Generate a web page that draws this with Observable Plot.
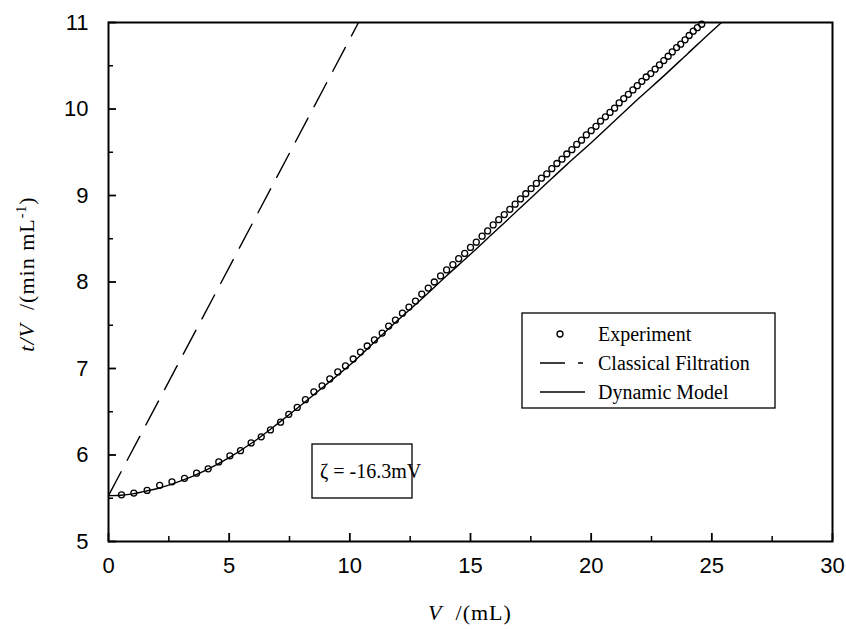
<!DOCTYPE html>
<html><head><meta charset="utf-8">
<script src="https://cdn.jsdelivr.net/npm/d3@7"></script>
<script src="https://cdn.jsdelivr.net/npm/@observablehq/plot@0.6"></script>
<style>body{margin:0;background:#fff}</style>
</head><body><div id="chart"></div>
<script>
// Experiment (filtrate volume V in mL, t/V in min/mL)
const expV = [0.54,1.05,1.60,2.12,2.63,3.15,3.65,4.13,4.57,5.03,5.47,5.91,6.33,6.71,7.13,7.47,7.82,8.16,8.51,8.85,9.17,9.50,9.82,10.14,10.44,10.72,11.02,11.34,11.61,11.89,
  12.18,12.45,12.72,12.98,13.25,13.50,13.76,14.01,14.27,14.51,14.76,15.00,15.24,15.48,15.71,15.94,16.17,16.40,16.63,16.85,17.07,17.29,17.51,17.73,17.94,18.16,18.37,18.58,18.79,18.99,
  19.20,19.40,19.60,19.80,20.00,20.20,20.39,20.59,20.78,20.97,21.16,21.35,21.54,21.73,21.91,22.10,22.28,22.47,22.65,22.83,23.01,23.19,23.36,23.54,23.71,23.89,24.06,24.23,24.40,24.58];
const expTV = [5.54,5.56,5.59,5.65,5.69,5.73,5.79,5.84,5.92,5.99,6.05,6.14,6.21,6.29,6.38,6.47,6.55,6.64,6.73,6.80,6.88,6.96,7.03,7.11,7.19,7.26,7.33,7.41,7.49,7.56,
  7.64,7.71,7.78,7.86,7.93,8.00,8.07,8.14,8.20,8.27,8.33,8.40,8.46,8.53,8.59,8.66,8.72,8.78,8.84,8.90,8.96,9.02,9.08,9.14,9.20,9.25,9.31,9.37,9.42,9.48,
  9.53,9.59,9.64,9.70,9.75,9.80,9.86,9.91,9.96,10.01,10.07,10.12,10.17,10.22,10.27,10.32,10.37,10.41,10.46,10.51,10.56,10.61,10.66,10.71,10.75,10.80,10.85,10.90,10.94,10.98];
// Dynamic model curve
const modelV  = [0,0.5,1,1.5,2,3,4,5,6,7,8,9,10,11,12,13,14,15,16,17,18,19,20,21,22,23,24,25,25.4];
const modelTV = [5.53,5.535,5.55,5.58,5.61,5.70,5.82,5.97,6.15,6.36,6.58,6.81,7.04,7.30,7.56,7.81,8.07,8.32,8.58,8.84,9.10,9.36,9.61,9.87,10.13,10.38,10.64,10.90,11.0];
// Classical filtration line
const classicV  = [0, 10.36];
const classicTV = [5.53, 11.0];

const xTicks = [0,5,10,15,20,25,30];
const xMinor = [2.5,7.5,12.5,17.5,22.5,27.5];
const yTicks = [5,6,7,8,9,10,11];
const yMinor = [5.5,6.5,7.5,8.5,9.5,10.5];
const legendLabels = ["Experiment","Classical Filtration","Dynamic Model"];
const annotationText = "\u03B6 = -16.3mV";

const expData = expV.map((v,i)=>({V:v, tv:expTV[i]}));
const modelData = modelV.map((v,i)=>({V:v, tv:modelTV[i]}));
const classicData = classicV.map((v,i)=>({V:v, tv:classicTV[i]}));

const W = 846, H = 629, mL = 108, mR = 14, mT = 22, mB = 88;
const fw = W - mL - mR, fh = H - mT - mB;
const serif = "'Liberation Serif','Times New Roman',serif";
const sans = "'Liberation Sans',Arial,sans-serif";

const plot = Plot.plot({
  width: W, height: H,
  marginLeft: mL, marginRight: mR, marginTop: mT, marginBottom: mB,
  style: {fontFamily: sans, fontSize: "22px", color: "#000", background: "#fff"},
  x: {domain: [0,30]},
  y: {domain: [5,11]},
  marks: [
    Plot.axisX({ticks: xTicks, tickSize: 0, tickPadding: 16, label: null, fontSize: 22, tickFormat: d3.format("d")}),
    Plot.axisY({ticks: yTicks, tickSize: 0, tickPadding: 20, label: null, fontSize: 22, tickFormat: d3.format("d")}),
    Plot.tickX(xTicks, {x: d=>d, insetTop: fh-8, stroke: "#000", strokeWidth: 1.8}),
    Plot.tickX(xMinor, {x: d=>d, insetTop: fh-5, stroke: "#000", strokeWidth: 1.5}),
    Plot.tickY(yTicks, {y: d=>d, insetRight: fw-8, stroke: "#000", strokeWidth: 1.8}),
    Plot.tickY(yMinor, {y: d=>d, insetRight: fw-5, stroke: "#000", strokeWidth: 1.5}),
    Plot.line(classicData, {x:"V", y:"tv", stroke:"#000", strokeWidth:1.4, strokeDasharray:"27,13", clip:true}),
    Plot.line(modelData, {x:"V", y:"tv", stroke:"#000", strokeWidth:1.4, curve:"monotone-x", clip:true}),
    Plot.dot(expData, {x:"V", y:"tv", r:3, stroke:"#000", strokeWidth:1.3, fill:"none"}),
    Plot.frame({stroke:"#000", strokeWidth: 2})
  ]
});

const svg = d3.select(plot);
const g = svg.append("g").attr("font-family", serif).attr("fill", "#000").attr("text-anchor", "start");

// Legend box
const lx1 = 522, lx2 = 775, ly1 = 313, ly2 = 408;
g.append("rect").attr("x", lx1).attr("y", ly1).attr("width", lx2-lx1).attr("height", ly2-ly1)
  .attr("fill", "#fff").attr("stroke", "#000").attr("stroke-width", 1.3);
const rows = [334, 363, 392];
g.append("circle").attr("cx", 560).attr("cy", rows[0]).attr("r", 3).attr("fill","none").attr("stroke","#000").attr("stroke-width",1.3);
g.append("line").attr("x1",540).attr("x2",583).attr("y1",rows[1]).attr("y2",rows[1]).attr("stroke","#000").attr("stroke-width",1.4).attr("stroke-dasharray","25,13");
g.append("line").attr("x1",540).attr("x2",585).attr("y1",rows[2]).attr("y2",rows[2]).attr("stroke","#000").attr("stroke-width",1.4);
legendLabels.forEach((t,i)=>{
  g.append("text").attr("x", 598).attr("y", rows[i]).attr("dy","0.35em").attr("text-anchor","start").attr("font-size", 20).text(t);
});

// Annotation box
g.append("rect").attr("x", 312).attr("y", 444).attr("width", 100).attr("height", 54)
  .attr("fill","#fff").attr("stroke","#000").attr("stroke-width",1.3);
g.append("text").attr("x", 320).attr("y", 471).attr("dy","0.35em").attr("text-anchor","start").attr("font-size", 20).text(annotationText);

// Axis titles
const xt = g.append("text").attr("x", 470).attr("y", 620).attr("text-anchor","middle").attr("font-size", 22).attr("letter-spacing", "1px");
xt.append("tspan").attr("font-style","italic").text("V");
xt.append("tspan").text("  /(mL)");
const yt = g.append("text").attr("transform","translate(34,274) rotate(-90)").attr("text-anchor","middle").attr("font-size", 22).attr("letter-spacing","1px");
yt.append("tspan").attr("font-style","italic").text("t/V");
yt.append("tspan").text("  /(min mL");
yt.append("tspan").attr("font-size", 14).attr("dy", -8).text("-1");
yt.append("tspan").attr("dy", 8).text(")");

document.getElementById("chart").appendChild(plot);
</script>
</body></html>
